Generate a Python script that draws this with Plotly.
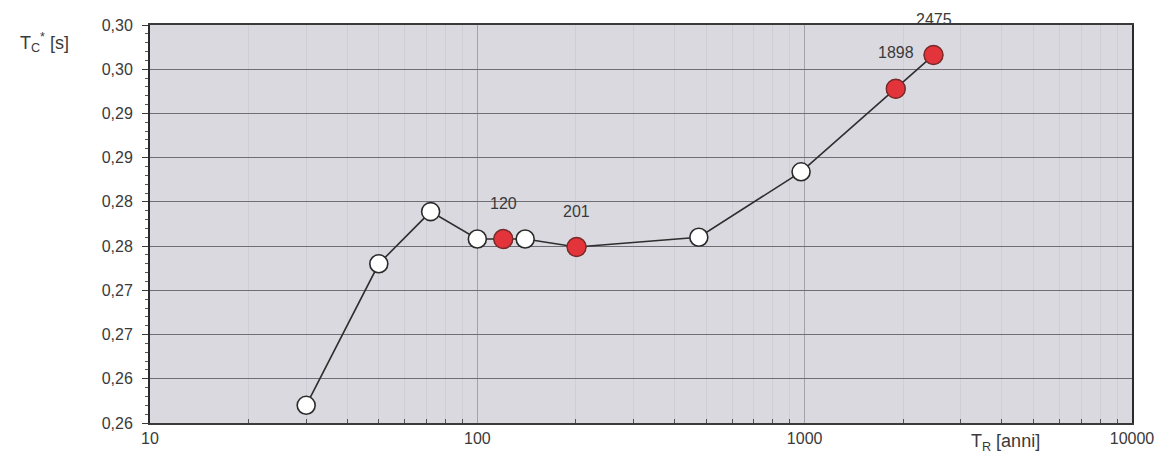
import math
import plotly.graph_objects as go

# Return period T_R [anni] and corresponding T_C* [s]
tr_all = [30, 50, 72, 100, 120, 140, 201, 475, 975, 1898, 2475]
tc_all = [0.2620, 0.2780, 0.2839, 0.2808, 0.2808, 0.2808, 0.2799, 0.2810, 0.2884, 0.2978, 0.3016]

# Highlighted return periods (red markers, labelled)
tr_red = [120, 201, 1898, 2475]
tc_red = [0.2808, 0.2799, 0.2978, 0.3016]

# Axis ticks
y_tickvals = [0.260, 0.265, 0.270, 0.275, 0.280, 0.285, 0.290, 0.295, 0.300, 0.305]
y_ticktext = ["0,26", "0,26", "0,27", "0,27", "0,28", "0,28", "0,29", "0,29", "0,30", "0,30"]
x_tickvals = [10, 100, 1000, 10000]
x_ticktext = ["10", "100", "1000", "10000"]
x_minor = [20, 30, 40, 50, 60, 70, 80, 90,
           200, 300, 400, 500, 600, 700, 800, 900,
           2000, 3000, 4000, 5000, 6000, 7000, 8000, 9000]

FONT = "Liberation Sans, Arial, sans-serif"
TXT = "#3a3a3a"

fig = go.Figure()

# Connecting line with white markers
fig.add_trace(go.Scatter(
    x=tr_all, y=tc_all, mode="lines+markers",
    line=dict(color="#2e2e2e", width=1.6),
    marker=dict(size=18, color="white", line=dict(color="#2a2a2a", width=1.6)),
    showlegend=False, hoverinfo="x+y",
))

# Red highlighted points
fig.add_trace(go.Scatter(
    x=tr_red, y=tc_red, mode="markers",
    marker=dict(size=19, color="#e2343a", line=dict(color="#7a2a2a", width=1.4)),
    showlegend=False, hoverinfo="x+y",
))

# Return-period labels above red points (log axis -> annotation x in log10 units)
for xv, yv in zip(tr_red, tc_red):
    fig.add_annotation(x=math.log10(xv), y=yv, xref="x", yref="y", text=str(xv),
                       showarrow=False, yshift=36,
                       font=dict(family=FONT, size=16, color=TXT))

# Axis titles
fig.add_annotation(x=-0.134, y=0.955, xref="paper", yref="paper",
                   text="T<sub>C</sub><sup>*</sup> [s]", showarrow=False,
                   xanchor="left", yanchor="middle",
                   font=dict(family=FONT, size=18, color=TXT))
fig.add_annotation(x=0.871, y=-0.05, xref="paper", yref="paper",
                   text="T<sub>R</sub> [anni]", showarrow=False,
                   xanchor="center", yanchor="middle",
                   font=dict(family=FONT, size=18, color=TXT))

fig.update_xaxes(
    type="log", range=[1, 4],
    tickmode="array", tickvals=x_tickvals, ticktext=x_ticktext,
    showgrid=True, gridcolor="#a2a2aa", gridwidth=1,
    minor=dict(tickvals=x_minor, showgrid=True, gridcolor="#ceced6", gridwidth=1,
               ticks="inside", ticklen=4, tickcolor="#555"),
    ticks="", showline=True, linecolor="#3a3a3a", linewidth=1.5, mirror=True,
    tickfont=dict(family=FONT, size=16, color=TXT),
    zeroline=False,
)
fig.update_yaxes(
    range=[0.260, 0.305],
    tickmode="array", tickvals=y_tickvals, ticktext=y_ticktext,
    showgrid=True, gridcolor="#6e6e74", gridwidth=1,
    ticks="outside", ticklen=6, tickcolor="#3a3a3a",
    minor=dict(dtick=0.001, tick0=0.26, ticks="outside", ticklen=3,
               tickcolor="#555", showgrid=False),
    showline=True, linecolor="#2a2a2a", linewidth=2, mirror=True,
    tickfont=dict(family=FONT, size=16, color=TXT),
    ticklabelstandoff=6,
    zeroline=False,
)

fig.update_layout(
    width=1167, height=467,
    margin=dict(l=150, r=35, t=25, b=44),
    plot_bgcolor="#d9d9df",
    paper_bgcolor="white",
    showlegend=False,
)

fig.write_html("out.html")
